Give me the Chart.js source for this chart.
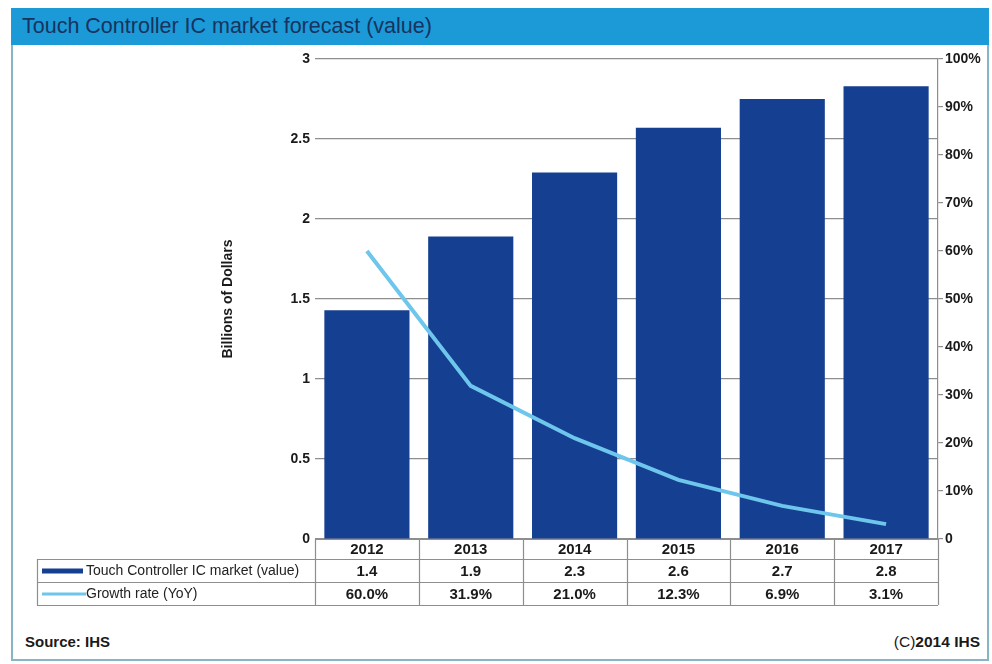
<!DOCTYPE html>
<html>
<head>
<meta charset="utf-8">
<script src="https://cdn.jsdelivr.net/npm/chart.js@4"></script>
<style>
  html, body { margin:0; padding:0; background:#ffffff; }
  #wrap { position:relative; width:992px; height:664px; overflow:hidden; font-family:"Liberation Sans", Arial, sans-serif; }
  #frame { position:absolute; left:11px; top:8px; width:974px; height:649px; border:2px solid #86b6c6; }
  #titlebar { position:absolute; left:11px; top:8px; width:978px; height:37px; background:#1b9ad7; }
  #titletext { position:absolute; left:22px; top:14px; font-size:21.5px; color:#17335f; white-space:nowrap; }
  #source { position:absolute; left:25px; top:633px; font-size:15px; font-weight:bold; color:#1a1a1a; }
  #copy { position:absolute; right:12px; top:633px; font-size:15.5px; color:#1a1a1a; }
  #copy b { font-weight:bold; }
  canvas { position:absolute; left:0; top:0; }
</style>
</head>
<body>
<div id="wrap">
  <div id="frame"></div>
  <div id="titlebar"></div>
  <div id="titletext">Touch Controller IC market forecast (value)</div>
  <div id="source">Source: IHS</div>
  <div id="copy">(C)<b>2014 IHS</b></div>
  <canvas id="c" width="992" height="664"></canvas>
</div>
<script>
const years = ['2012', '2013', '2014', '2015', '2016', '2017'];
const marketValue = [1.43, 1.89, 2.29, 2.57, 2.75, 2.83];
const marketLabels = ['1.4', '1.9', '2.3', '2.6', '2.7', '2.8'];
const growthRate = [60.0, 31.9, 21.0, 12.3, 6.9, 3.1];
const growthLabels = ['60.0%', '31.9%', '21.0%', '12.3%', '6.9%', '3.1%'];
const seriesNames = ['Touch Controller IC market (value)', 'Growth rate (YoY)'];

const BAR_COLOR = '#153f91';
const LINE_COLOR = '#6ec6ec';
const GRID = '#8e8e8e';
const FONT = '"Liberation Sans", Arial, sans-serif';

const tablePlugin = {
  id: 'dataTable',
  afterDraw(chart) {
    const ctx = chart.ctx;
    const area = chart.chartArea;
    const x = chart.scales.x;
    const n = years.length;
    const colW = (area.right - area.left) / n;
    const top = area.bottom;
    const r0 = top, r1 = top + 20, r2 = top + 43, r3 = top + 66;
    const labelLeft = 37;
    ctx.save();
    ctx.strokeStyle = GRID;
    ctx.lineWidth = 1.2;
    ctx.beginPath();
    ctx.moveTo(area.left, r0 + 0.5); ctx.lineTo(area.right, r0 + 0.5);
    ctx.moveTo(labelLeft, r1 + 0.5); ctx.lineTo(area.right, r1 + 0.5);
    ctx.moveTo(labelLeft, r2 + 0.5); ctx.lineTo(area.right, r2 + 0.5);
    ctx.moveTo(labelLeft, r3 + 0.5); ctx.lineTo(area.right, r3 + 0.5);
    for (let i = 0; i <= n; i++) {
      const xx = Math.round(area.left + i * colW) + 0.5;
      ctx.moveTo(xx, r0); ctx.lineTo(xx, r3);
    }
    ctx.moveTo(labelLeft + 0.5, r1); ctx.lineTo(labelLeft + 0.5, r3);
    ctx.stroke();

    ctx.fillStyle = '#1a1a1a';
    ctx.textAlign = 'center';
    ctx.textBaseline = 'middle';
    ctx.font = 'bold 15px ' + FONT;
    for (let i = 0; i < n; i++) {
      const cx = x.getPixelForValue(i);
      ctx.fillText(years[i], cx, (r0 + r1) / 2 + 1);
      ctx.fillText(marketLabels[i], cx, (r1 + r2) / 2 + 1);
      ctx.fillText(growthLabels[i], cx, (r2 + r3) / 2 + 1);
    }
    ctx.fillStyle = BAR_COLOR;
    ctx.fillRect(42, (r1 + r2) / 2 - 2, 41, 5);
    ctx.fillStyle = LINE_COLOR;
    ctx.fillRect(42, (r2 + r3) / 2 - 1, 44, 3);
    ctx.fillStyle = '#222222';
    ctx.textAlign = 'left';
    ctx.font = '14px ' + FONT;
    ctx.fillText(seriesNames[0], 86, (r1 + r2) / 2 + 1);
    ctx.fillText(seriesNames[1], 86, (r2 + r3) / 2 + 1);
    ctx.restore();
  }
};

new Chart(document.getElementById('c'), {
  data: {
    labels: years,
    datasets: [
      {
        type: 'line',
        label: seriesNames[1],
        data: growthRate,
        yAxisID: 'y1',
        borderColor: LINE_COLOR,
        borderWidth: 4,
        pointRadius: 0,
        tension: 0,
        order: 0
      },
      {
        type: 'bar',
        label: seriesNames[0],
        data: marketValue,
        yAxisID: 'y',
        backgroundColor: BAR_COLOR,
        borderWidth: 0,
        barPercentage: 0.82,
        categoryPercentage: 1.0,
        order: 1
      }
    ]
  },
  options: {
    responsive: false,
    animation: false,
    events: [],
    layout: { padding: { left: 216, right: 0, top: 59, bottom: 125 } },
    plugins: { legend: { display: false }, title: { display: false }, tooltip: { enabled: false } },
    scales: {
      x: {
        display: false,
        offset: true,
        grid: { display: false }
      },
      y: {
        position: 'left',
        min: 0, max: 3,
        ticks: {
          stepSize: 0.5, color: '#1a1a1a', padding: 5,
          font: { family: FONT, size: 14, weight: 'bold' },
          callback: v => String(v)
        },
        grid: { color: GRID, lineWidth: 1.2, drawTicks: false },
        border: { display: false },
        title: { display: true, text: 'Billions of Dollars', color: '#1a1a1a', padding: { top: 4, bottom: 0 }, font: { family: FONT, size: 14, weight: 'bold' } },
        afterFit(scale) { scale.width = 99; }
      },
      y1: {
        position: 'right',
        min: 0, max: 100,
        ticks: {
          stepSize: 10, color: '#1a1a1a', padding: 2,
          font: { family: FONT, size: 14, weight: 'bold' },
          callback: v => v === 0 ? '0' : v + '%'
        },
        grid: { drawOnChartArea: false, color: GRID, tickLength: 5, lineWidth: 1.2 },
        border: { display: true, color: GRID, width: 1.2 },
        afterFit(scale) { scale.width = 54; }
      }
    }
  },
  plugins: [tablePlugin]
});
</script>
</body>
</html>
